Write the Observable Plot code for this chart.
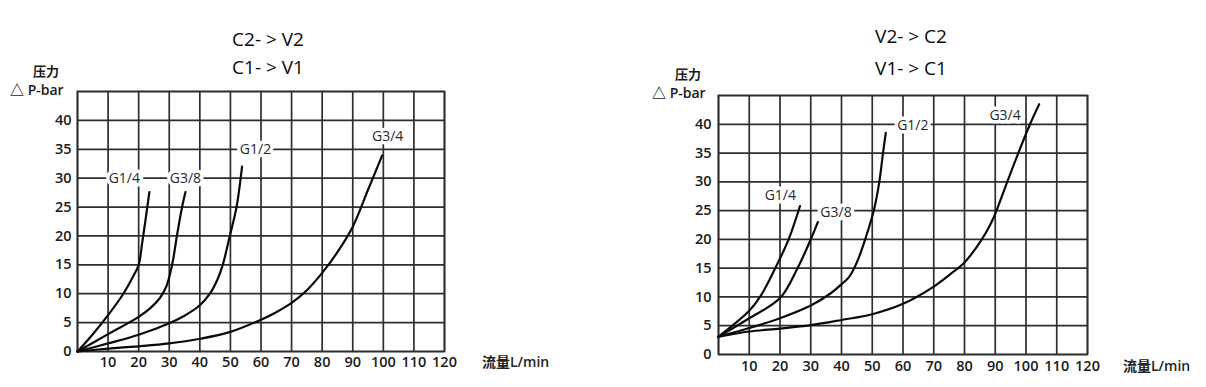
<!DOCTYPE html>
<html>
<head>
<meta charset="utf-8">
<script src="https://cdn.jsdelivr.net/npm/d3@7"></script>
<script src="https://cdn.jsdelivr.net/npm/@observablehq/plot@0.6"></script>
<style>
  html, body { margin: 0; padding: 0; background: #fff; }
  #wrap { position: relative; width: 1206px; height: 387px; overflow: hidden;
          font-family: "Open Sans", "Noto Sans CJK SC", sans-serif; color: #1a1a1a; }
  .abs { position: absolute; white-space: nowrap; line-height: 1; }
  .title { font-size: 19px; transform: translateX(-50%); color: #0a0a0a; }
  .unit { font-size: 13px; font-weight: 600; }
  .xlab { font-size: 14px; font-weight: 600; color: #222; }
  #left, #right { position: absolute; top: 0; }
  #left { left: 0; } #right { left: 603px; }
</style>
</head>
<body>
<div id="wrap">
  <div id="left"></div>
  <div id="right"></div>
  <div class="abs title" style="left:268px; top:30px;">C2- &gt; V2</div>
  <div class="abs title" style="left:268px; top:58px;">C1- &gt; V1</div>
  <div class="abs title" style="left:911px; top:27px;">V2- &gt; C2</div>
  <div class="abs title" style="left:911px; top:59px;">V1- &gt; C1</div>
  <div class="abs unit" style="left:33px; top:65px;">压力</div>
  <div class="abs unit" style="left:10px; top:83px; font-size:14px;">△ P-bar</div>
  <div class="abs unit" style="left:675px; top:68px;">压力</div>
  <div class="abs unit" style="left:652px; top:86px; font-size:14px;">△ P-bar</div>
  <div class="abs xlab" style="left:482px; top:355px;">流量L/min</div>
  <div class="abs xlab" style="left:1123px; top:359px;">流量L/min</div>
</div>
<script>
// ---- data (flow L/min, pressure bar) ----
const xTickValues = [10, 20, 30, 40, 50, 60, 70, 80, 90, 100, 110, 120];
const yTickValues = [0, 5, 10, 15, 20, 25, 30, 35, 40];
const xGridValues = [0, 10, 20, 30, 40, 50, 60, 70, 80, 90, 100, 110, 120];
const yGridValues = [0, 5, 10, 15, 20, 25, 30, 35, 40, 45];

// Left chart: C2->V2 / C1->V1
const leftG14 = [[0,0],[5,3],[10,6.3],[15,10],[18,12.8],[20,15],[21.2,19],[22.3,23],[23.5,27.6]];
const leftG38 = [[0,0],[10,3],[20,6],[24,7.6],[27,9.3],[29,11.2],[30.3,13.5],[31.3,16],[32.5,20],[34.2,25],[35.3,27.6]];
const leftG12 = [[0,0],[10,1.4],[20,2.9],[30,4.9],[35,6.2],[40,8],[43.3,10],[45.8,12.5],[47.5,15],[49.8,20],[52,25],[53.8,32]];
const leftG34 = [[0,0],[10,0.5],[20,0.9],[30,1.4],[40,2.2],[50,3.4],[60,5.5],[65,6.8],[70,8.4],[75,10.6],[80,13.6],[85,17.2],[90,21.6],[95,28],[99.6,33.9]];
const leftLabels = [
  {name: "G1/4", flow: 15.3, bar: 30},
  {name: "G3/8", flow: 35.3, bar: 30},
  {name: "G1/2", flow: 58.2, bar: 35},
  {name: "G3/4", flow: 101.4, bar: 37.2}
];

// Right chart: V2->C2 / V1->C1
const rightG14 = [[0,3.1],[10,7.6],[13.5,10],[18,14.5],[22.8,20],[26.5,25.8]];
const rightG38 = [[0,3.1],[10,6.3],[20,9.8],[25.7,15],[30,20],[32.3,23]];
const rightG12 = [[0,3.1],[10,4.6],[20,6.3],[30,8.5],[36.4,10.6],[40,12.2],[42.5,13.5],[45,16],[48,20.5],[50.5,25],[52.3,30],[53.5,35],[54.4,38.5]];
const rightG34 = [[0,3.1],[10,4.0],[20,4.5],[30,5.1],[40,6.0],[50,7.0],[60,8.8],[70,11.8],[75,13.8],[80,16],[84,18.7],[87,21.2],[89.5,23.8],[93.9,30],[97.5,35],[101.3,40],[104.3,43.5]];
const rightLabels = [
  {name: "G1/4", flow: 20.1, bar: 27.7},
  {name: "G3/8", flow: 38.2, bar: 24.6},
  {name: "G1/2", flow: 63.2, bar: 39.8},
  {name: "G3/4", flow: 93.2, bar: 41.6}
];

function chart(series, labels, m, pad) {
  const gridStyle = {stroke: "#2e2e2e", strokeOpacity: 1, strokeWidth: 1.7};
  return Plot.plot({
    width: 603, height: 387,
    marginLeft: m.left, marginRight: m.right, marginTop: m.top, marginBottom: m.bottom,
    x: {domain: [0, 120]},
    y: {domain: [0, 45]},
    style: {fontFamily: '"Open Sans", "Noto Sans CJK SC", sans-serif', fontSize: "14px", color: "#1a1a1a", background: "transparent", overflow: "visible"},
    marks: [
      Plot.gridX(xGridValues, gridStyle),
      Plot.gridY(yGridValues, gridStyle),
      Plot.frame({stroke: "#2e2e2e", strokeWidth: 1.7}),
      Plot.axisX(xTickValues, {tickSize: 0, tickPadding: pad.x, label: null, fontSize: 14.5, fontWeight: 600}),
      Plot.axisY(yTickValues, {tickSize: 0, tickPadding: pad.y, label: null, fontSize: 14.5, fontWeight: 600}),
      ...series.map(s => Plot.line(s, {x: d => d[0], y: d => d[1], curve: "catmull-rom", stroke: "#0a0a0a", strokeWidth: 2.2})),
      Plot.text(labels, {x: "flow", y: "bar", text: "name", fill: "#2a2a2a", stroke: "white", strokeWidth: 7, fontSize: 14})
    ]
  });
}

document.getElementById("left").append(
  chart([leftG14, leftG38, leftG12, leftG34], leftLabels,
        {left: 77, right: 159, top: 91, bottom: 36}, {x: 5, y: 6}));
document.getElementById("right").append(
  chart([rightG14, rightG38, rightG12, rightG34], rightLabels,
        {left: 115, right: 119, top: 95, bottom: 33}, {x: 6, y: 7}));
</script>
</body>
</html>
